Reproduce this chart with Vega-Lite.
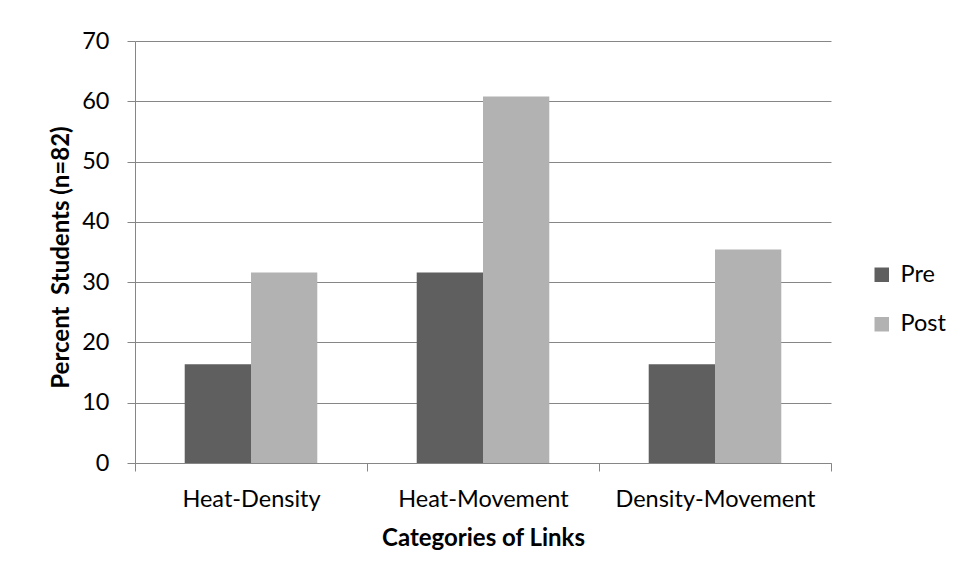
{
  "$schema": "https://vega.github.io/schema/vega-lite/v6.json",
  "width": 696,
  "height": 422,
  "autosize": {"type": "none"},
  "padding": {"left": 135, "top": 41, "right": 130, "bottom": 117},
  "background": "white",
  "data": {
    "values": [
      {"category": "Heat-Density", "period": "Pre", "percent": 16.4},
      {"category": "Heat-Density", "period": "Post", "percent": 31.6},
      {"category": "Heat-Movement", "period": "Pre", "percent": 31.6},
      {"category": "Heat-Movement", "period": "Post", "percent": 60.8},
      {"category": "Density-Movement", "period": "Pre", "percent": 16.4},
      {"category": "Density-Movement", "period": "Post", "percent": 35.4}
    ]
  },
  "mark": {"type": "bar"},
  "encoding": {
    "x": {
      "field": "category",
      "type": "nominal",
      "sort": ["Heat-Density", "Heat-Movement", "Density-Movement"],
      "scale": {"paddingInner": 0, "paddingOuter": 0},
      "axis": {
        "title": "Categories of Links",
        "labelAngle": 0,
        "labelLimit": 400,
        "tickBand": "extent",
        "tickSize": 8,
        "labelPadding": 16,
        "grid": false,
        "titleY": 82,
        "titleBaseline": "alphabetic"
      }
    },
    "xOffset": {
      "field": "period",
      "type": "nominal",
      "sort": ["Pre", "Post"],
      "scale": {"paddingInner": 0, "paddingOuter": 0.75}
    },
    "y": {
      "field": "percent",
      "type": "quantitative",
      "scale": {"domain": [0, 70], "nice": false},
      "axis": {
        "title": "Percent\u00a0 Students (n=82)",
        "values": [0, 10, 20, 30, 40, 50, 60, 70],
        "tickSize": 8,
        "labelPadding": 18,
        "titleX": -67,
        "titleY": 216,
        "titleBaseline": "alphabetic",
        "grid": true
      }
    },
    "color": {
      "field": "period",
      "type": "nominal",
      "scale": {"domain": ["Pre", "Post"], "range": ["#5f5f5f", "#b2b2b2"]},
      "legend": {
        "title": null,
        "orient": "none",
        "legendX": 735,
        "legendY": 222,
        "symbolType": "square",
        "symbolSize": 210,
        "symbolStrokeWidth": 0,
        "labelOffset": 7,
        "rowPadding": 24.5,
        "padding": 0
      }
    }
  },
  "config": {
    "font": "Lato",
    "view": {"stroke": null},
    "axis": {
      "labelFont": "Lato",
      "labelFontSize": 23.5,
      "labelColor": "#000000",
      "titleFont": "Lato",
      "titleFontSize": 24,
      "titleFontWeight": "bold",
      "titleColor": "#000000",
      "domainColor": "#868686",
      "tickColor": "#868686",
      "gridColor": "#868686",
      "gridOpacity": 1,
      "domainWidth": 1,
      "tickWidth": 1,
      "gridWidth": 1
    },
    "legend": {
      "labelFont": "Lato",
      "labelFontSize": 23.5,
      "labelColor": "#000000"
    }
  }
}
